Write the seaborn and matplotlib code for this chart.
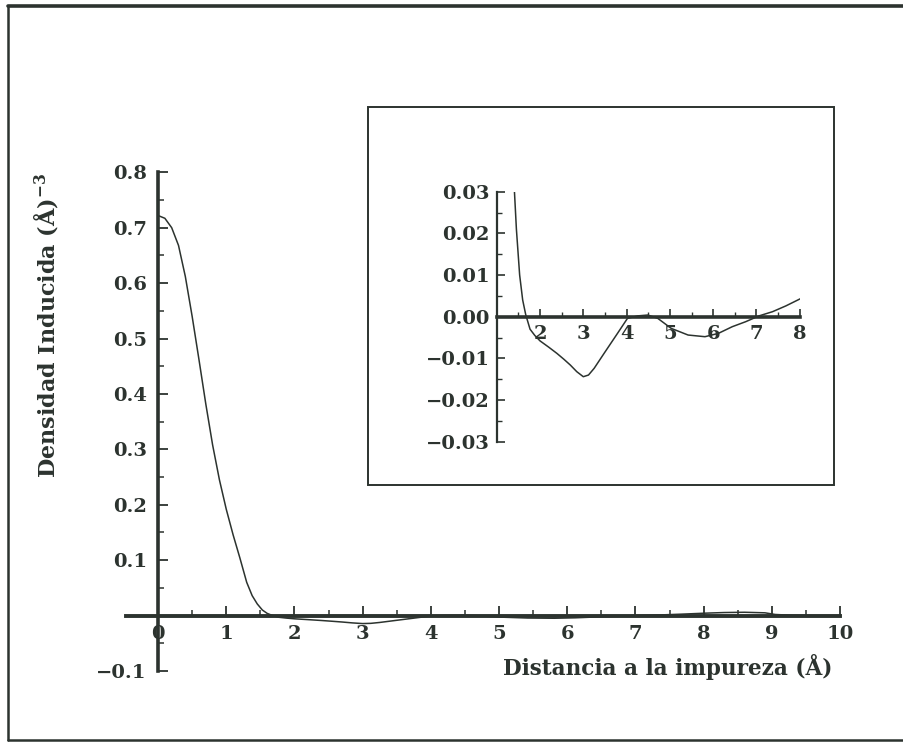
import numpy as np
import pandas as pd
import matplotlib
matplotlib.use("Agg")
import matplotlib.pyplot as plt
from matplotlib.lines import Line2D
from matplotlib.patches import Rectangle
from matplotlib.ticker import FixedLocator
import seaborn as sns

# ---- data ----
distance = [0.0, 0.1, 0.2, 0.3, 0.4, 0.5, 0.6, 0.7, 0.8, 0.9, 1.0,
            1.1, 1.2, 1.3, 1.38, 1.455, 1.53, 1.6, 1.67, 1.77, 1.88, 2.0,
            2.2, 2.39, 2.55, 2.70, 2.85, 3.0, 3.12, 3.25, 3.48, 3.79, 4.02,
            4.26, 4.49, 4.72, 5.03, 5.42, 5.81, 6.12, 6.44, 6.75, 7.06,
            7.37, 7.68, 8.03, 8.3, 8.6, 8.9, 9.05, 9.3, 9.6, 10.0]
density = [0.722, 0.717, 0.700, 0.668, 0.612, 0.540, 0.462, 0.382, 0.308,
           0.245, 0.192, 0.146, 0.104, 0.060, 0.036, 0.021, 0.010, 0.004,
           0.0005, -0.003, -0.0045, -0.0058, -0.0073, -0.0088, -0.0102,
           -0.0116, -0.0132, -0.0144, -0.0140, -0.0124, -0.0088, -0.004,
           -0.0004, 0.0002, 0.0004, -0.0004, -0.0028, -0.0044, -0.0048,
           -0.004, -0.0024, -0.0012, 0.0002, 0.0012, 0.0026, 0.0044,
           0.0055, 0.006, 0.005, 0.002, 0.0005, 0.0, 0.0]

main_xticks = [0, 1, 2, 3, 4, 5, 6, 7, 8, 9, 10]
main_xlabels = ["0", "1", "2", "3", "4", "5", "6", "7", "8", "9", "10"]
main_yticks = [-0.1, 0.1, 0.2, 0.3, 0.4, 0.5, 0.6, 0.7, 0.8]
main_ylabels = ["\u22120.1", "0.1", "0.2", "0.3", "0.4", "0.5", "0.6", "0.7", "0.8"]
inset_xticks = [2, 3, 4, 5, 6, 7, 8]
inset_xlabels = ["2", "3", "4", "5", "6", "7", "8"]
inset_yticks = [-0.03, -0.02, -0.01, 0.0, 0.01, 0.02, 0.03]
inset_ylabels = ["\u22120.03", "\u22120.02", "\u22120.01", "0.00", "0.01", "0.02", "0.03"]

xlabel_text = "Distancia a la impureza (Å)"
ylabel_text = r"Densidad Inducida (Å)$^{-3}$"

df = pd.DataFrame({"r": distance, "rho": density})

# ---- style ----
sns.set_theme(style="white")
INK = "#2c332f"
plt.rcParams["font.family"] = ["DejaVu Serif", "DejaVu Sans"]
plt.rcParams["mathtext.fontset"] = "dejavuserif"
plt.rcParams["font.weight"] = "bold"
plt.rcParams["text.color"] = INK
FS = 14

W, H = 904, 743
fig = plt.figure(figsize=(W / 100, H / 100), dpi=100)
fig.patch.set_facecolor("white")


def fx(px):
    return px / W


def fy(py):
    return 1 - py / H


# ---- main axes ----
ax = fig.add_axes([fx(126), fy(671), fx(840) - fx(126), fy(172.3) - fy(671)])
ax.set_facecolor("none")
sns.lineplot(data=df, x="r", y="rho", ax=ax, color=INK, linewidth=1.1,
             sort=False, estimator=None)
ax.set_xlim(-0.47, 10.0)
ax.set_ylim(-0.1, 0.8)
ax.set_xlabel("")
ax.set_ylabel("")
for s in ["top", "right"]:
    ax.spines[s].set_visible(False)
ax.spines["left"].set_position(("data", 0))
ax.spines["bottom"].set_position(("data", 0))
ax.spines["left"].set_linewidth(2.6)
ax.spines["bottom"].set_linewidth(2.8)
for s in ["left", "bottom"]:
    ax.spines[s].set_color(INK)
ax.set_xticks(main_xticks)
ax.set_xticklabels(main_xlabels)
ax.set_yticks(main_yticks)
ax.set_yticklabels(main_ylabels)
ax.xaxis.set_minor_locator(FixedLocator(np.arange(0.5, 10, 1.0)))
ax.yaxis.set_minor_locator(FixedLocator(np.arange(-0.05, 0.8, 0.1)))
ax.tick_params(which="major", direction="in", length=7, width=1.3, color=INK,
               labelsize=FS, labelcolor=INK)
ax.tick_params(which="minor", direction="in", length=4, width=1.1, color=INK)
ax.tick_params(axis="x", which="major", pad=7)
ax.tick_params(axis="y", which="major", pad=8)
ax.tick_params(left=True, bottom=True, which="both")

# ---- inset ----
frame = Rectangle((fx(368), fy(485)), fx(834) - fx(368), fy(107) - fy(485),
                  transform=fig.transFigure, fill=True, facecolor="white",
                  edgecolor=INK, linewidth=1.4, zorder=1)
fig.add_artist(frame)

ins = fig.add_axes([fx(496.7), fy(441.7), fx(799.8) - fx(496.7), fy(191.7) - fy(441.7)])
ins.set_zorder(2)
ins.set_facecolor("none")
sns.lineplot(data=df, x="r", y="rho", ax=ins, color=INK, linewidth=1.1,
             sort=False, estimator=None)
ins.set_xlim(1.0, 8.0)
ins.set_ylim(-0.03, 0.03)
ins.set_xlabel("")
ins.set_ylabel("")
for s in ["top", "right"]:
    ins.spines[s].set_visible(False)
ins.spines["bottom"].set_position(("data", 0))
ins.spines["left"].set_linewidth(1.6)
ins.spines["bottom"].set_linewidth(2.6)
for s in ["left", "bottom"]:
    ins.spines[s].set_color(INK)
ins.set_xticks(inset_xticks)
ins.set_xticklabels(inset_xlabels)
ins.set_yticks(inset_yticks)
ins.set_yticklabels(inset_ylabels)
ins.xaxis.set_minor_locator(FixedLocator(np.arange(1.5, 8, 1.0)))
ins.yaxis.set_minor_locator(FixedLocator(np.arange(-0.025, 0.03, 0.01)))
ins.tick_params(which="major", direction="in", length=6, width=1.2, color=INK,
                labelsize=FS, labelcolor=INK)
ins.tick_params(which="minor", direction="in", length=3.5, width=1.0, color=INK)
ins.tick_params(axis="x", which="major", pad=6)
ins.tick_params(axis="y", which="major", pad=5)
ins.tick_params(left=True, bottom=True, which="both")

# ---- axis titles ----
fig.text(fx(832), fy(667), xlabel_text, ha="right", va="center",
         fontsize=15.5, fontweight="bold", color=INK)
fig.text(fx(46), fy(325), ylabel_text, ha="center", va="center",
         rotation=90, fontsize=16, fontweight="bold", color=INK)

# ---- outer scanned frame ----
fig.add_artist(Line2D([fx(8), 1.0], [fy(6), fy(6)], transform=fig.transFigure,
                      color=INK, linewidth=2.6))
fig.add_artist(Line2D([fx(8), fx(8)], [fy(6), fy(740)], transform=fig.transFigure,
                      color=INK, linewidth=1.8))
fig.add_artist(Line2D([fx(8), 1.0], [fy(740), fy(740)], transform=fig.transFigure,
                      color=INK, linewidth=1.8))

fig.savefig("out.png", dpi=100, facecolor="white")
